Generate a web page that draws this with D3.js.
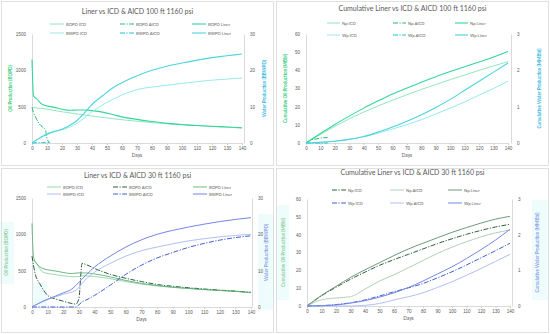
<!DOCTYPE html>
<html>
<head>
<meta charset="utf-8">
<script src="https://cdn.jsdelivr.net/npm/d3@7"></script>
<style>
  body { margin: 0; background: #fff; }
  svg { display: block; font-family: Lato, "Open Sans", sans-serif; }
</style>
</head>
<body>
<div id="chart"></div>
<script>
// ---- data ----
const dayTicks = [0, 10, 20, 30, 40, 50, 60, 70, 80, 90, 100, 110, 120, 130, 140];

// Panel 1: rates, 100 ft
const p1DaysLiner = [0, 1, 3, 7, 15, 20, 25, 30, 35, 40, 47, 55, 60, 70, 80, 90, 100, 110, 120, 130, 140];
const p1BopdLiner = [1150, 650, 610, 530, 490, 465, 450, 455, 455, 445, 425, 385, 360, 325, 295, 270, 255, 240, 230, 220, 210];
const p1DaysIcd = [0, 10, 20, 30, 40, 50, 60, 70, 80, 90, 100, 110, 120, 130, 140];
const p1BopdIcd = [490, 465, 430, 400, 370, 345, 320, 300, 280, 265, 250, 240, 228, 218, 205];
const p1DaysAicd = [0, 1, 3, 5, 7, 9, 10, 12];
const p1BopdAicd = [490, 420, 330, 260, 220, 180, 60, 0];
const p1BwpdLiner = [0, 0.3, 0.8, 1.8, 3.2, 3.8, 4.8, 6.2, 8.3, 10.6, 13, 15.5, 16.6, 18.5, 20, 21.1, 22, 22.8, 23.5, 24, 24.5];
const p1BwpdIcd = [0, 2.6, 3.6, 5.4, 8.6, 11.2, 13.2, 14.7, 15.4, 15.9, 16.4, 16.9, 17.3, 17.6, 17.9];
const p1BwpdAicd = [0, 0, 0.1, 0.1, 0.1, 0.1, 0.1, 0.1];

// Panel 2: cumulative, 100 ft
const p2Days = [0, 10, 20, 30, 40, 50, 60, 70, 80, 90, 100, 110, 120, 130, 140];
const p2NpLiner = [0, 5.2, 10.2, 14.8, 19.2, 23.2, 27, 30.3, 33.5, 36.5, 39.3, 42, 44.6, 47.3, 50.4];
const p2NpIcd = [0, 4.7, 9.2, 13.3, 17, 20.4, 23.6, 26.6, 29.5, 32.2, 34.9, 37.4, 40, 42.4, 44.8];
const p2DaysAicd = [0, 3, 6, 9, 12, 15];
const p2NpAicd = [0, 1.5, 2.1, 2.5, 2.9, 3];
const p2WpLiner = [0, 0.02, 0.05, 0.1, 0.18, 0.3, 0.44, 0.6, 0.78, 0.98, 1.2, 1.45, 1.7, 1.95, 2.2];
const p2WpIcd = [0, 0.02, 0.05, 0.1, 0.17, 0.27, 0.385, 0.51, 0.64, 0.8, 0.96, 1.13, 1.32, 1.5, 1.7];
const p2WpAicd = [0, 0, 0, 0, 0, 0];

// Panel 3: rates, 30 ft
const p3DaysLiner = [0, 1, 3, 7, 15, 20, 25, 30, 35, 40, 50, 60, 70, 80, 90, 100, 110, 120, 130, 140];
const p3BopdLiner = [1150, 680, 600, 530, 495, 475, 460, 470, 468, 455, 415, 365, 325, 295, 272, 255, 240, 228, 215, 200];
const p3DaysIcd = [0, 1, 3, 7, 15, 20, 28, 33, 40, 50, 60, 70, 80, 90, 100, 110, 120, 130, 140];
const p3BopdIcd = [660, 640, 590, 480, 445, 430, 415, 430, 420, 390, 350, 315, 290, 270, 255, 240, 228, 215, 200];
const p3DaysAicd = [0, 2, 5, 10, 15, 20, 25, 28, 30, 32, 35, 40, 50, 60, 70, 80, 90, 100, 110, 120, 130, 140];
const p3BopdAicd = [700, 460, 320, 160, 110, 80, 50, 40, 120, 600, 580, 530, 450, 395, 350, 310, 285, 265, 248, 232, 218, 200];
const p3BwpdLiner = [0, 0.3, 0.7, 1.6, 3, 3.9, 4.8, 6.8, 9, 11, 14, 16.5, 18.5, 20, 21.1, 22, 22.8, 23.5, 24.1, 24.6];
const p3BwpdIcd = [0, 0.3, 0.7, 1.5, 2.8, 3.5, 4.6, 7, 9.6, 12, 14, 15.5, 16.5, 17.4, 18.2, 18.8, 19.3, 19.7, 20];
const p3BwpdAicd = [0, 0, 0, 0, 0, 0, 0, 0, 0.6, 1.4, 2, 3.2, 6, 9, 11.5, 13.5, 15, 16.4, 17.5, 18.4, 19.1, 19.6];

// Panel 4: cumulative, 30 ft
const p4Days = [0, 10, 20, 30, 40, 50, 60, 70, 80, 90, 100, 110, 120, 130, 140];
const p4NpLiner = [0, 6, 11, 16, 20.3, 24.3, 28.3, 32, 35.2, 38.3, 41.3, 44, 46.5, 48.7, 50.3];
const p4NpIcd = [0, 5.7, 10.5, 15, 19, 22.8, 26, 29, 32, 35, 37.7, 40.2, 42.4, 44.3, 45.8];
const p4NpAicd = [0, 3.5, 4.5, 5.2, 9.5, 14, 17.5, 21.5, 25.5, 29.5, 33, 36, 38.8, 41, 42.6];
const p4WpLiner = [0, 0.01, 0.03, 0.08, 0.15, 0.25, 0.37, 0.52, 0.7, 0.9, 1.1, 1.33, 1.58, 1.85, 2.15];
const p4WpIcd = [0, 0.01, 0.04, 0.09, 0.17, 0.28, 0.4, 0.51, 0.63, 0.79, 0.96, 1.15, 1.35, 1.55, 1.76];
const p4WpAicd = [0, 0, 0, 0, 0.02, 0.07, 0.17, 0.26, 0.37, 0.52, 0.68, 0.86, 1.05, 1.25, 1.45];

const rateOilTicks = [0, 500, 1000, 1500];
const rateWaterTicks = [0, 10, 20, 30];
const cumOilTicks = [0, 10, 20, 30, 40, 50, 60];
const cumWaterTicks = [0, 1, 2, 3];

// ---- drawing ----
const W = 550, H = 334;
const svg = d3.select("#chart").append("svg").attr("width", W).attr("height", H);

const textGray = "#595959";
const axisGray = "#d0d0d0";
const dashDot = "5,1.5,1.2,1.5";

// faint cyan highlight patches seen on the lower charts
const patches = [
  [0, 222, 14, 62], [258, 214, 15, 96], [33, 282, 14, 24],
  [276, 205, 13, 95], [532, 200, 16, 100]
];
svg.selectAll("rect.patch").data(patches).enter().append("rect")
  .attr("class", "patch")
  .attr("x", d => d[0]).attr("y", d => d[1]).attr("width", d => d[2]).attr("height", d => d[3])
  .attr("fill", "#effcfc");

// panel frames
const frames = [[1.5, 1.5, 272, 164], [276.5, 1.5, 272, 164], [1.5, 168.5, 272, 164], [276.5, 168.5, 272, 164]];
svg.selectAll("rect.frame").data(frames).enter().append("rect")
  .attr("class", "frame")
  .attr("x", d => d[0]).attr("y", d => d[1]).attr("width", d => d[2]).attr("height", d => d[3])
  .attr("fill", "none").attr("stroke", "#d9d9d9").attr("stroke-width", 0.8);

function drawPanel(cfg) {
  const g = svg.append("g");
  const x = d3.scaleLinear().domain([0, 140]).range([cfg.x0, cfg.x1]);
  const yL = d3.scaleLinear().domain(cfg.leftDomain).range([cfg.y0, cfg.y1]);
  const yR = d3.scaleLinear().domain(cfg.rightDomain).range([cfg.y0, cfg.y1]);
  const fmt = d3.format("d");

  // axes
  const xAxis = g.append("g").attr("transform", `translate(0,${cfg.y0})`)
    .call(d3.axisBottom(x).tickValues(dayTicks).tickFormat(fmt).tickSize(2).tickPadding(2));
  const lAxis = g.append("g").attr("transform", `translate(${cfg.x0},0)`)
    .call(d3.axisLeft(yL).tickValues(cfg.leftTicks).tickFormat(fmt).tickSize(0).tickPadding(6));
  const rAxis = g.append("g").attr("transform", `translate(${cfg.x1 + cfg.rGap},0)`)
    .call(d3.axisRight(yR).tickValues(cfg.rightTicks).tickFormat(fmt).tickSize(0).tickPadding(6));
  [xAxis, lAxis, rAxis].forEach(a => {
    a.select(".domain").attr("stroke", axisGray).attr("stroke-width", 0.8);
    a.selectAll(".tick line").attr("stroke", axisGray);
    a.selectAll("text").attr("fill", textGray).attr("font-size", 4.6);
  });

  g.append("text").attr("x", (cfg.x0 + cfg.x1) / 2).attr("y", cfg.y0 + 14)
    .attr("text-anchor", "middle").attr("font-size", 4.8).attr("fill", textGray).text("Days");

  g.append("text").attr("x", (cfg.px0 + cfg.px1) / 2).attr("y", cfg.titleY)
    .attr("text-anchor", "middle").attr("font-size", 7).attr("fill", textGray).text(cfg.title);

  const ym = (cfg.y0 + cfg.y1) / 2;
  g.append("text").attr("transform", `translate(${cfg.leftTitleX},${ym}) rotate(-90)`)
    .attr("text-anchor", "middle").attr("font-size", 4.6).attr("font-weight", "bold")
    .attr("fill", cfg.leftTitleColor).text(cfg.leftTitle);
  g.append("text").attr("transform", `translate(${cfg.rightTitleX},${ym}) rotate(-90)`)
    .attr("text-anchor", "middle").attr("font-size", 4.6).attr("font-weight", "bold")
    .attr("fill", cfg.rightTitleColor).text(cfg.rightTitle);

  const line = d3.line().curve(d3.curveMonotoneX);
  cfg.series.forEach(s => {
    const yS = s.axis === "L" ? yL : yR;
    const pts = s.days.map((d, i) => [x(d), yS(s.values[i])]);
    g.append("path").attr("d", line(pts)).attr("fill", "none")
      .attr("stroke", s.color).attr("stroke-width", s.width)
      .attr("stroke-dasharray", s.dash ? dashDot : null);
  });

  // legend, two rows of three
  cfg.series.forEach((s, i) => {
    const col = i % 3, row = Math.floor(i / 3);
    const lx = cfg.px0 + cfg.legendCols[col];
    const ly = cfg.legendRows[row];
    g.append("line").attr("x1", lx).attr("x2", lx + cfg.legendLen).attr("y1", ly).attr("y2", ly)
      .attr("stroke", s.color).attr("stroke-width", s.width)
      .attr("stroke-dasharray", s.dash ? dashDot : null);
    g.append("text").attr("x", lx + cfg.legendLen + 2).attr("y", ly + 1.5)
      .attr("font-size", 4.2).attr("fill", textGray).text(s.name);
  });
}

// colours
const g1 = { oilIcd: "#86e3b8", oilAicd: "#22bb77", oilLiner: "#33d69a", wIcd: "#8ce6ec", wAicd: "#11c4d4", wLiner: "#4dd4dc" };
const g3 = { oilIcd: "#8fd3a3", oilAicd: "#2f5f40", oilLiner: "#5fae78", wIcd: "#a9b8f0", wAicd: "#3f5fd0", wLiner: "#7387e3" };

drawPanel({
  px0: 0, px1: 275, titleY: 14,
  title: "Liner vs ICD & AICD 100 ft 1160 psi",
  x0: 32, x1: 242, y0: 143, y1: 34, rGap: 2,
  leftDomain: [0, 1500], rightDomain: [0, 30], leftTicks: rateOilTicks, rightTicks: rateWaterTicks,
  leftTitle: "Oil Production (BOPD)", leftTitleColor: "#33cc77", leftTitleX: 12,
  rightTitle: "Water Production (BBWPD)", rightTitleColor: "#33b8dd", rightTitleX: 266,
  legendCols: [50, 120, 192], legendRows: [24, 33], legendLen: 14,
  series: [
    { name: "BOPD ICD", days: p1DaysIcd, values: p1BopdIcd, axis: "L", color: g1.oilIcd, width: 0.9 },
    { name: "BOPD AICD", days: p1DaysAicd, values: p1BopdAicd, axis: "L", color: g1.oilAicd, width: 1, dash: true },
    { name: "BOPD Liner", days: p1DaysLiner, values: p1BopdLiner, axis: "L", color: g1.oilLiner, width: 1.1 },
    { name: "BWPD ICD", days: p1DaysIcd, values: p1BwpdIcd, axis: "R", color: g1.wIcd, width: 0.9 },
    { name: "BWPD AICD", days: p1DaysAicd, values: p1BwpdAicd, axis: "R", color: g1.wAicd, width: 1, dash: true },
    { name: "BWPD Liner", days: p1DaysLiner, values: p1BwpdLiner, axis: "R", color: g1.wLiner, width: 1.1 }
  ]
});

drawPanel({
  px0: 275, px1: 550, titleY: 11,
  title: "Cumulative Liner vs ICD & AICD 100 ft 1160 psi",
  x0: 306, x1: 508, y0: 143, y1: 34, rGap: 3,
  leftDomain: [0, 60], rightDomain: [0, 3], leftTicks: cumOilTicks, rightTicks: cumWaterTicks,
  leftTitle: "Cumulative Oil Production (MBbl)", leftTitleColor: "#33cc77", leftTitleX: 287,
  rightTitle: "Cumulative Water Production (MMBbl)", rightTitleColor: "#33b8dd", rightTitleX: 541,
  legendCols: [52, 118, 180], legendRows: [23, 35], legendLen: 13,
  series: [
    { name: "Np ICD", days: p2Days, values: p2NpIcd, axis: "L", color: g1.oilIcd, width: 0.9 },
    { name: "Np AICD", days: p2DaysAicd, values: p2NpAicd, axis: "L", color: g1.oilAicd, width: 1, dash: true },
    { name: "Np Liner", days: p2Days, values: p2NpLiner, axis: "L", color: g1.oilLiner, width: 1.1 },
    { name: "Wp ICD", days: p2Days, values: p2WpIcd, axis: "R", color: g1.wIcd, width: 0.9 },
    { name: "Wp AICD", days: p2DaysAicd, values: p2WpAicd, axis: "R", color: g1.wAicd, width: 1, dash: true },
    { name: "Wp Liner", days: p2Days, values: p2WpLiner, axis: "R", color: g1.wLiner, width: 1.1 }
  ]
});

drawPanel({
  px0: 0, px1: 275, titleY: 178,
  title: "Liner vs ICD & AICD 30 ft 1160 psi",
  x0: 32, x1: 251, y0: 307, y1: 198, rGap: 1,
  leftDomain: [0, 1500], rightDomain: [0, 30], leftTicks: rateOilTicks, rightTicks: rateWaterTicks,
  leftTitle: "Oil Production (BOPD)", leftTitleColor: "#8fcf9a", leftTitleX: 8,
  rightTitle: "Water Production (BBWPD)", rightTitleColor: "#8fa3e6", rightTitleX: 268,
  legendCols: [47, 113, 193], legendRows: [187, 194], legendLen: 14,
  series: [
    { name: "BOPD ICD", days: p3DaysIcd, values: p3BopdIcd, axis: "L", color: g3.oilIcd, width: 0.9 },
    { name: "BOPD AICD", days: p3DaysAicd, values: p3BopdAicd, axis: "L", color: g3.oilAicd, width: 1, dash: true },
    { name: "BOPD Liner", days: p3DaysLiner, values: p3BopdLiner, axis: "L", color: g3.oilLiner, width: 0.9 },
    { name: "BWPD ICD", days: p3DaysIcd, values: p3BwpdIcd, axis: "R", color: g3.wIcd, width: 0.9 },
    { name: "BWPD AICD", days: p3DaysAicd, values: p3BwpdAicd, axis: "R", color: g3.wAicd, width: 1, dash: true },
    { name: "BWPD Liner", days: p3DaysLiner, values: p3BwpdLiner, axis: "R", color: g3.wLiner, width: 1 }
  ]
});

drawPanel({
  px0: 275, px1: 550, titleY: 175,
  title: "Cumulative Liner vs ICD & AICD 30 ft 1160 psi",
  x0: 307, x1: 510, y0: 306, y1: 199, rGap: 2,
  leftDomain: [0, 60], rightDomain: [0, 3], leftTicks: cumOilTicks, rightTicks: cumWaterTicks,
  leftTitle: "Cumulative Oil Production (MBbl)", leftTitleColor: "#8fcf9a", leftTitleX: 285,
  rightTitle: "Cumulative Water Production (MMBbl)", rightTitleColor: "#8fa3e6", rightTitleX: 539,
  legendCols: [57, 115, 173], legendRows: [190, 203], legendLen: 14,
  series: [
    { name: "Np ICD", days: p4Days, values: p4NpIcd, axis: "L", color: g3.oilAicd, width: 1, dash: true },
    { name: "Np AICD", days: p4Days, values: p4NpAicd, axis: "L", color: "#a9c9b2", width: 0.9 },
    { name: "Np Liner", days: p4Days, values: p4NpLiner, axis: "L", color: "#6f9a7c", width: 1 },
    { name: "Wp ICD", days: p4Days, values: p4WpIcd, axis: "R", color: g3.wAicd, width: 1, dash: true },
    { name: "Wp AICD", days: p4Days, values: p4WpAicd, axis: "R", color: g3.wIcd, width: 0.9 },
    { name: "Wp Liner", days: p4Days, values: p4WpLiner, axis: "R", color: g3.wLiner, width: 1 }
  ]
});
</script>
</body>
</html>
